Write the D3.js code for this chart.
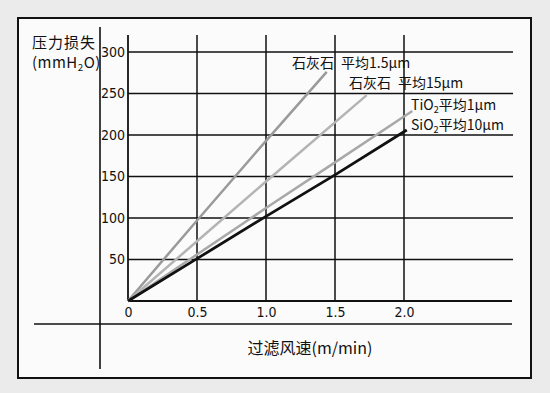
<!DOCTYPE html>
<html><head><meta charset="utf-8">
<script src="https://cdn.jsdelivr.net/npm/d3@7"></script>
<style>
body{margin:0;background:#ebebeb;}
svg{display:block;}
.tick text{font-family:"DejaVu Sans Condensed","Liberation Sans Narrow","DejaVu Sans",sans-serif;}
</style></head>
<body>
<svg id="c" width="550" height="393"></svg>
<script>
// ---- data ----
const xTicks = [0, 0.5, 1.0, 1.5, 2.0];
const yTicks = [50, 100, 150, 200, 250, 300];
const seriesNames = ["石灰石 平均1.5μm", "石灰石 平均15μm", "TiO2平均1μm", "SiO2平均10μm"];
const limestone15x = [0, 0.5, 1.0, 1.44];
const limestone15y = [0, 97, 193, 276];
const limestone150x = [0, 0.5, 1.0, 1.73];
const limestone150y = [0, 72, 144, 248];
const tio2x = [0, 0.5, 1.0, 1.5, 2.06];
const tio2y = [0, 56, 112, 167, 229];
const sio2x = [0, 0.5, 1.0, 1.5, 2.02];
const sio2y = [0, 51, 102, 152, 206];

const svg = d3.select("#c");
const x = d3.scaleLinear().domain([0, 2]).range([128, 404]);
const y = d3.scaleLinear().domain([0, 300]).range([301, 52]);

// background + frame
svg.append("rect").attr("width", 550).attr("height", 393).attr("fill", "#ebebeb");
svg.append("rect").attr("x", 18).attr("y", 18).attr("width", 513).attr("height", 360)
  .attr("fill", "#fbfbfb").attr("stroke", "#111").attr("stroke-width", 2);
svg.append("line").attr("x1", 100).attr("x2", 100).attr("y1", 27).attr("y2", 369)
  .attr("stroke", "#111").attr("stroke-width", 1.6);
svg.append("line").attr("x1", 34).attr("x2", 512).attr("y1", 324).attr("y2", 324)
  .attr("stroke", "#111").attr("stroke-width", 1.6);

const xMax = x.invert(512), xGrid = x.invert(513), yTop = y.invert(35);
// grid
svg.append("g").selectAll("line").data(yTicks).join("line")
  .attr("x1", x(0)).attr("x2", x(xGrid))
  .attr("y1", d => y(d)).attr("y2", d => y(d))
  .attr("stroke", "#111").attr("stroke-width", 1.5);
svg.append("g").selectAll("line").data(xTicks.slice(1)).join("line")
  .attr("x1", d => x(d)).attr("x2", d => x(d))
  .attr("y1", y(yTop)).attr("y2", y(0))
  .attr("stroke", "#111").attr("stroke-width", 1.5);
// axes lines
svg.append("line").attr("x1", x(0)).attr("x2", x(0)).attr("y1", y(yTop)).attr("y2", y(0))
  .attr("stroke", "#111").attr("stroke-width", 1.8);
svg.append("line").attr("x1", x(0)).attr("x2", x(xMax)).attr("y1", y(0)).attr("y2", y(0))
  .attr("stroke", "#111").attr("stroke-width", 1.8);

// tick labels via axes
const ya = svg.append("g").attr("transform", `translate(${x(0)},0)`)
  .call(d3.axisLeft(y).tickValues(yTicks).tickSize(0).tickPadding(3));
ya.select(".domain").remove();
ya.selectAll("text").attr("font-size", 14).attr("fill", "#111");
const xa = svg.append("g").attr("transform", `translate(0,${y(0)})`)
  .call(d3.axisBottom(x).tickValues(xTicks).tickSize(0).tickPadding(6)
    .tickFormat(d => d === 0 ? "0" : d3.format(".1f")(d)));
xa.select(".domain").remove();
xa.selectAll("text").attr("font-size", 14).attr("fill", "#111");

// series
const series = [
  {name: seriesNames[0], xs: limestone15x, ys: limestone15y, color: "#9a9a9a", w: 2.5},
  {name: seriesNames[1], xs: limestone150x, ys: limestone150y, color: "#b4b4b4", w: 2.5},
  {name: seriesNames[2], xs: tio2x, ys: tio2y, color: "#a8a8a8", w: 2.5},
  {name: seriesNames[3], xs: sio2x, ys: sio2y, color: "#111", w: 2.8}
];
const line = d3.line().x(d => x(d[0])).y(d => y(d[1]));
svg.append("g").selectAll("path").data(series).join("path")
  .attr("d", s => line(s.xs.map((v, i) => [v, s.ys[i]])))
  .attr("fill", "none").attr("stroke", s => s.color).attr("stroke-width", s => s.w);

// labels
const cjk = '"Noto Sans CJK SC","Noto Sans CJK JP",sans-serif';
function lab(px, py, parts, size, ls) {
  const t = svg.append("text").attr("x", px).attr("y", py).attr("font-family", cjk)
    .attr("font-size", size).attr("fill", "#111").attr("letter-spacing", ls || 0);
  parts.forEach(p => {
    const ts = t.append("tspan").text(p.t);
    if (p.sub) ts.attr("font-size", size * 0.65).attr("dy", 3);
    if (p.up) ts.attr("dy", -3);
  });
  return t;
}
lab(292, 68, [{t: "石灰石\u2002平均1.5μm"}], 14);
lab(349, 88, [{t: "石灰石\u2002平均15μm"}], 14);
lab(411, 110, [{t: "TiO"}, {t: "2", sub: true}, {t: "平均1μm", up: true}], 14);
lab(411, 130, [{t: "SiO"}, {t: "2", sub: true}, {t: "平均10μm", up: true}], 14);

// axis titles
svg.append("text").attr("x", 64).attr("y", 48).attr("text-anchor", "middle")
  .attr("font-family", cjk).attr("font-size", 15).attr("letter-spacing", 1)
  .attr("fill", "#111").text("压力损失");
lab(32, 68, [{t: "(mmH"}, {t: "2", sub: true}, {t: "O)", up: true}], 15, 0.5);
svg.append("text").attr("x", 310).attr("y", 354).attr("text-anchor", "middle")
  .attr("font-family", cjk).attr("font-size", 16).attr("fill", "#111").text("过滤风速(m/min)");
</script>
</body></html>
